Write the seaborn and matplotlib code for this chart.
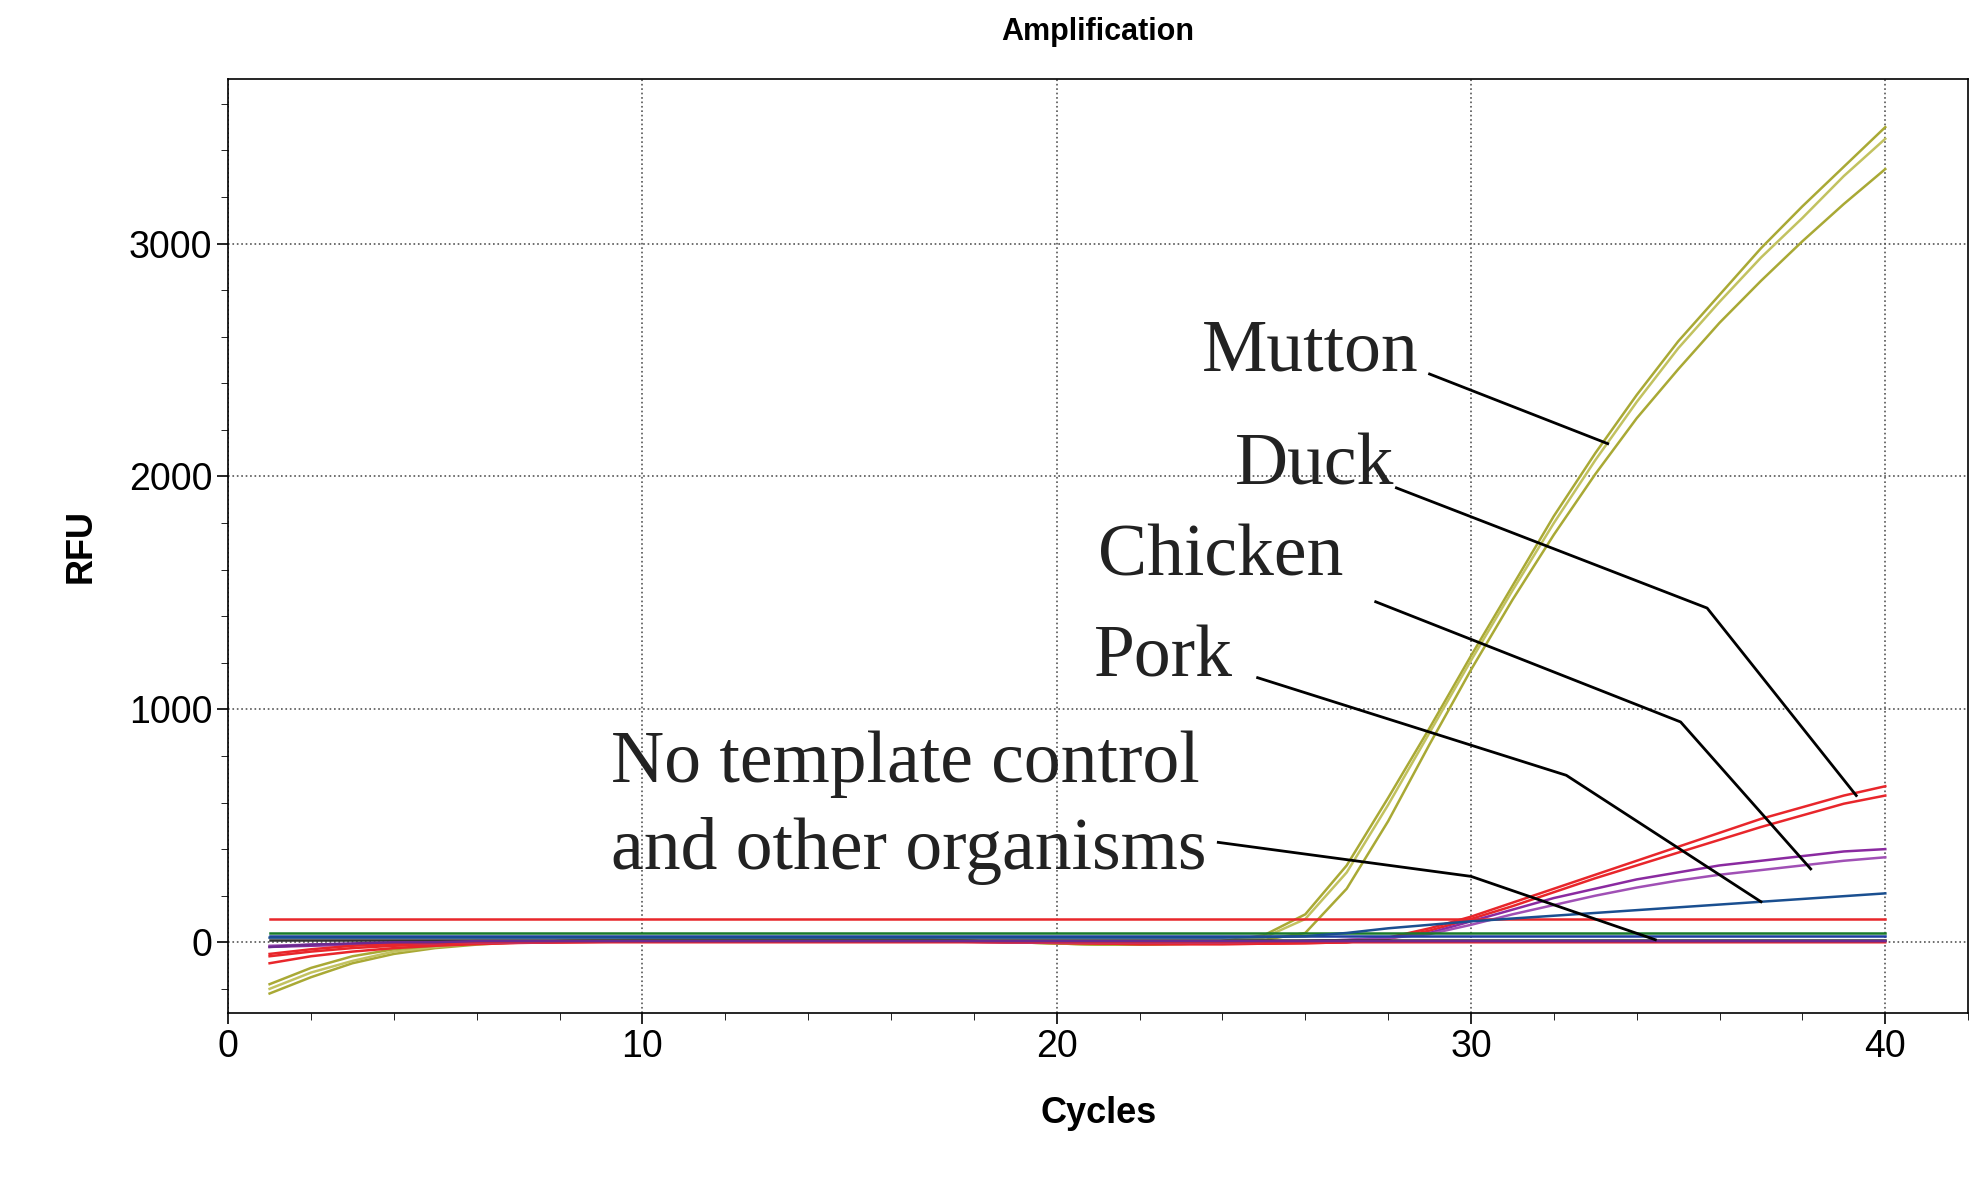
import numpy as np
import pandas as pd
import seaborn as sns
import matplotlib.pyplot as plt
from matplotlib.ticker import MultipleLocator

plt.rcParams['font.family'] = 'Liberation Sans'

cycles = list(range(1, 41))

# curves (RFU per cycle)
mutton_a = [-220, -150, -90, -50, -25, -10, 0, 5, 8, 10, 10, 10, 10, 10, 10, 10, 10, 5, 0, -5,
            -10, -10, -5, 5, 30, 120, 330, 620, 920, 1230, 1530, 1830, 2100, 2350, 2580, 2780, 2980, 3160, 3330, 3500]
mutton_b = [-200, -130, -80, -40, -20, -5, 0, 5, 8, 10, 10, 10, 10, 10, 10, 10, 10, 5, 0, -5,
            -10, -10, -5, 5, 20, 100, 300, 590, 900, 1210, 1510, 1800, 2070, 2320, 2550, 2750, 2940, 3110, 3290, 3450]
mutton_c = [-180, -110, -60, -30, -15, -5, 0, 5, 8, 10, 10, 10, 10, 10, 10, 10, 10, 5, 0, -5,
            -10, -10, -8, 0, 10, 40, 230, 520, 850, 1170, 1470, 1750, 2010, 2250, 2460, 2660, 2840, 3010, 3170, 3320]
duck_a = [-90, -60, -40, -25, -15, -8, -3, 0, 2, 3, 3, 3, 3, 3, 3, 3, 3, 2, 0, -3,
          -5, -8, -8, -8, -6, -4, 0, 20, 60, 110, 170, 230, 290, 350, 410, 470, 530, 580, 630, 670]
duck_b = [-60, -40, -25, -15, -10, -5, -2, 0, 2, 3, 3, 3, 3, 3, 3, 3, 3, 2, 0, -3,
          -5, -8, -8, -8, -6, -4, 0, 15, 50, 100, 155, 215, 275, 330, 385, 440, 495, 545, 595, 630]
chicken_a = [-20, -15, -10, -5, -3, 0, 0, 2, 3, 3, 3, 3, 3, 3, 3, 3, 3, 2, 0, 0,
             0, 0, 0, 0, 2, 5, 10, 20, 40, 90, 140, 190, 230, 270, 300, 330, 350, 370, 390, 400]
chicken_b = [-15, -10, -8, -5, -3, 0, 0, 2, 3, 3, 3, 3, 3, 3, 3, 3, 3, 2, 0, 0,
             0, 0, 0, 0, 2, 5, 10, 18, 35, 75, 120, 160, 200, 235, 265, 290, 310, 330, 350, 365]
pork = [20, 20, 20, 20, 20, 20, 20, 20, 20, 20, 20, 20, 20, 20, 20, 20, 20, 20, 20, 20,
        20, 20, 20, 20, 22, 26, 40, 60, 75, 90, 102, 114, 126, 138, 150, 162, 174, 186, 198, 210]
ntc_red_high = [100] * 40
ntc_red_low = [-50, -30, -15, -8, -3, 0, 0] + [0] * 33
ntc_green = [40] * 40
ntc_blue = [25] * 40
ntc_dark = [10] * 40
ntc_purple = [-20, -10, -5, 0, 0] + [5] * 35

series = {
    'mutton_a': (mutton_a, '#a9a935'), 'mutton_b': (mutton_b, '#c2c260'), 'mutton_c': (mutton_c, '#a9a935'),
    'duck_a': (duck_a, '#e8262b'), 'duck_b': (duck_b, '#e8262b'),
    'chicken_a': (chicken_a, '#8a2aa0'), 'chicken_b': (chicken_b, '#a050b5'),
    'ntc_red_high': (ntc_red_high, '#e8262b'), 'ntc_red_low': (ntc_red_low, '#e8262b'),
    'ntc_green': (ntc_green, '#1a7a2a'), 'ntc_blue': (ntc_blue, '#1f3fa0'),
    'ntc_dark': (ntc_dark, '#303030'), 'ntc_purple': (ntc_purple, '#6a2a90'),
    'pork': (pork, '#1a4f90'),
}

df = pd.concat([pd.DataFrame({'Cycles': cycles, 'RFU': v, 'well': k}) for k, (v, c) in series.items()])
palette = {k: c for k, (v, c) in series.items()}

fig, ax = plt.subplots(figsize=(19.84, 11.78), dpi=100)
fig.subplots_adjust(left=0.115, right=0.992, top=0.933, bottom=0.14)
sns.lineplot(data=df, x='Cycles', y='RFU', hue='well', palette=palette, lw=1.8,
             legend=False, ax=ax, estimator=None)

ax.set_xlim(0, 42)
ax.set_ylim(-304, 3707)
ax.xaxis.set_major_locator(MultipleLocator(10))
ax.xaxis.set_minor_locator(MultipleLocator(2))
ax.yaxis.set_major_locator(MultipleLocator(1000))
ax.yaxis.set_minor_locator(MultipleLocator(200))
ax.grid(True, which='major', linestyle=':', color='#555555', lw=1.2)
ax.tick_params(labelsize=27, length=8, width=1.2)
ax.tick_params(which='minor', length=5)
for s in ax.spines.values():
    s.set_linewidth(1.2)
ax.set_xlabel('Cycles', fontsize=26, fontweight='bold', labelpad=22)
ax.set_ylabel('RFU', fontsize=26, fontweight='bold', labelpad=22)
ax.set_title('Amplification', fontsize=22, fontweight='bold', pad=28)

serif = dict(fontsize=53, family='Liberation Serif', va='center', color='#222222')
ax.text(23.5, 2533, 'Mutton', **serif)
ax.text(24.3, 2043, 'Duck', **serif)
ax.text(21.0, 1652, 'Chicken', **serif)
ax.text(20.9, 1217, 'Pork', **serif)
ax.text(9.24, 766, 'No template control', **serif)
ax.text(9.24, 391, 'and other organisms', **serif)

leaders = [
    ([29.0, 33.3], [2440, 2141]),
    ([28.2, 35.7, 39.3], [1951, 1435, 630]),
    ([27.7, 35.06, 38.2], [1462, 946, 315]),
    ([24.85, 32.3, 37.0], [1136, 717, 174]),
    ([23.9, 30.0, 34.45], [429, 283, 11]),
]
for xs, ys in leaders:
    ax.plot(xs, ys, color='black', lw=2)

plt.savefig('out.png')
